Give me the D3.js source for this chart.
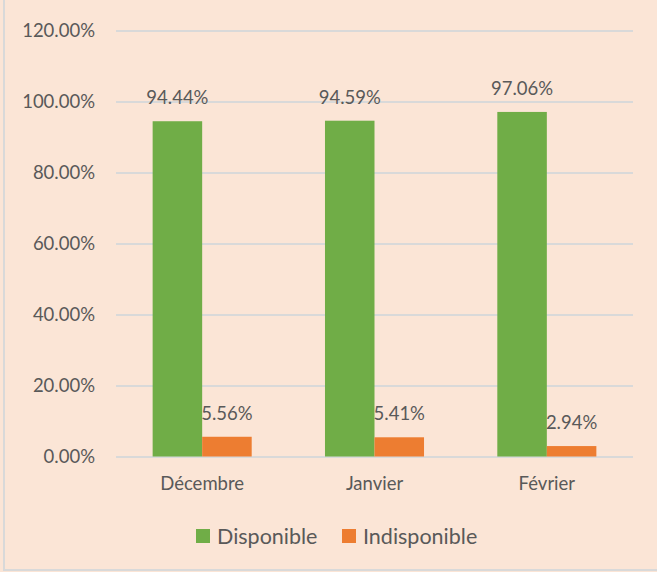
<!DOCTYPE html>
<html><head><meta charset="utf-8">
<script src="https://cdn.jsdelivr.net/npm/d3@7"></script>
<style>body{margin:0;background:#fff}svg{display:block}</style>
</head><body>
<script>
const categories = ["Décembre", "Janvier", "Février"];
const seriesNames = ["Disponible", "Indisponible"];
const disponible = [0.9444, 0.9459, 0.9706];
const indisponible = [0.0556, 0.0541, 0.0294];
const yTicks = [0, 0.2, 0.4, 0.6, 0.8, 1.0, 1.2];
const colors = ["#70AD47", "#ED7D31"];

const W = 657, H = 572;
const svg = d3.select("body").append("svg").attr("width", W).attr("height", H);
svg.append("rect").attr("x", 0).attr("y", 0).attr("width", W).attr("height", H).attr("fill", "#FBE5D6");
svg.append("rect").attr("x", 4).attr("y", -2).attr("width", W + 4).attr("height", 572)
  .attr("fill", "none").attr("stroke", "#D9D9D9").attr("stroke-width", 2);

const font = "Lato, 'Open Sans', sans-serif";
const x0 = d3.scaleBand().domain(categories).range([116, 633]).paddingInner(0).paddingOuter(0);
const x1 = d3.scaleBand().domain(seriesNames).range([0, x0.bandwidth()]).paddingInner(0).paddingOuter(0.74);
const y = d3.scaleLinear().domain([0, 1.2]).range([456.5, 30.5]);

const grid = svg.append("g").attr("transform", "translate(116,0)")
  .call(d3.axisLeft(y).tickValues(yTicks).tickSize(-517).tickFormat(d => (d * 100).toFixed(2) + "%").tickPadding(21));
grid.select(".domain").remove();
grid.selectAll(".tick line").attr("stroke", "#D9D9D9").attr("stroke-width", 2);
grid.selectAll(".tick text").attr("fill", "#595959").style("font-family", font).style("font-size", "18.5px");

const xa = svg.append("g").attr("transform", "translate(0,456.5)")
  .call(d3.axisBottom(x0).tickSize(0).tickPadding(20));
xa.select(".domain").remove();
xa.selectAll(".tick text").attr("fill", "#595959").style("font-family", font).style("font-size", "18.5px");

const data = categories.map((c, i) => ({cat: c, vals: [disponible[i], indisponible[i]]}));
const g = svg.append("g");
data.forEach(d => {
  d.vals.forEach((v, j) => {
    const bx = x0(d.cat) + x1(seriesNames[j]);
    g.append("rect").attr("x", bx).attr("y", y(v)).attr("width", x1.bandwidth())
      .attr("height", y(0) - y(v)).attr("fill", colors[j]);
    g.append("text").attr("x", bx + x1.bandwidth() / 2).attr("y", y(v) - 17)
      .attr("text-anchor", "middle").attr("fill", "#595959")
      .style("font-family", font).style("font-size", "18.5px")
      .text((v * 100).toFixed(2) + "%");
  });
});

const legendX = [196, 342];
seriesNames.forEach((s, j) => {
  svg.append("rect").attr("x", legendX[j]).attr("y", 529).attr("width", 14).attr("height", 14).attr("fill", colors[j]);
  svg.append("text").attr("x", legendX[j] + 21).attr("y", 543.5).attr("fill", "#595959")
    .style("font-family", font).style("font-size", "21.5px").text(s);
});
</script>
</body></html>
